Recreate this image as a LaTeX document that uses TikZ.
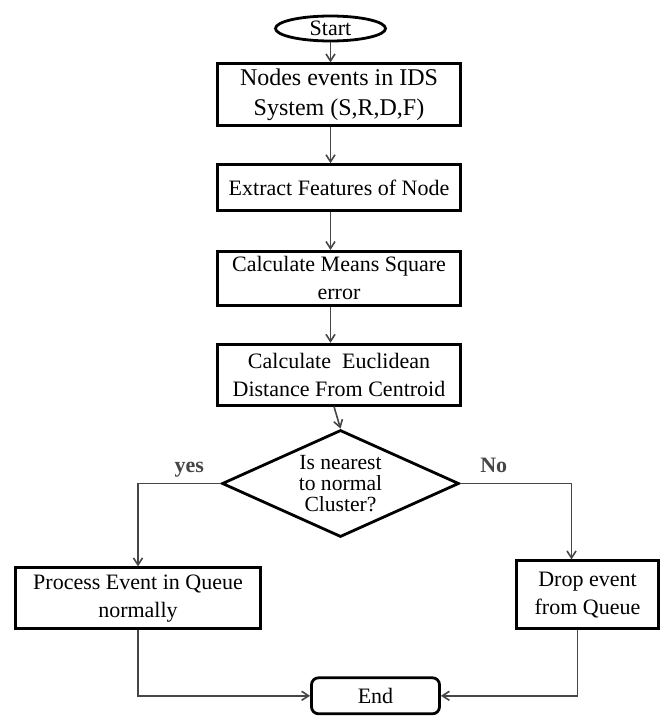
\documentclass[tikz,border=0pt]{standalone}
\usepackage{fontspec}
\setmainfont{Liberation Serif}
\usepackage{tikz}
\usetikzlibrary{shapes.geometric, arrows.meta, positioning}
\definecolor{linegray}{RGB}{70, 70, 70}

\begin{document}
\begin{tikzpicture}[
    node distance=18pt,
    every node/.style={font=\fontsize{11}{14}\selectfont},
    stage/.style={draw, line width=1.4pt, minimum width=121.6pt, inner sep=2pt, align=center},
    terminal/.style={draw, ellipse, line width=1.4pt, minimum width=55pt, minimum height=12.5pt, inner sep=0pt},
    decision/.style={draw, diamond, line width=1.4pt, aspect=2.2, minimum width=118.5pt, minimum height=53.5pt, inner sep=0pt, align=center, font=\fontsize{10.8}{10.6}\selectfont},
    finish/.style={draw, rounded corners=3.5pt, line width=1.4pt, minimum width=64pt, minimum height=18pt, inner sep=0pt},
    arrow/.style={-{Straight Barb[length=3.5pt, width=4.5pt]}, line width=0.8pt, linegray},
    branch/.style={font=\fontsize{11}{14}\selectfont\bfseries, text depth=0pt, inner sep=0pt}
]
    \useasboundingbox (0,0) rectangle (332pt,-361pt);

    % Nodes - main column
    \node[terminal] (start) at (165.25pt,-14.25pt) {Start};
    \node[stage, below=10pt of start, xshift=4.25pt, minimum height=31pt, font=\fontsize{12}{15}\selectfont] (events) {Nodes events in IDS\\System (S,R,D,F)};
    \node[stage, below=18pt of events, minimum height=23pt] (extract) {Extract Features of Node};
    \node[stage, below=19pt of extract, minimum height=27pt] (mse) {Calculate Means Square\\error};
    \node[stage, below=18pt of mse, minimum height=30.5pt] (euclid) {Calculate~ Euclidean\\Distance From Centroid};
    \node[decision, below=11pt of euclid, xshift=0.75pt] (decide) {Is nearest\\to normal\\Cluster?};

    % Nodes - branches
    \node[stage, minimum width=122.5pt, minimum height=30.5pt, below=14pt of decide, xshift=-101.25pt] (process) {Process Event in Queue\\normally};
    \node[stage, minimum width=71pt, minimum height=34pt, below=10.5pt of decide, xshift=123.5pt] (drop) {Drop event\\from Queue};
    \node[finish, below=69pt of decide, xshift=17.5pt] (end) {End};

    % Arrows
    \draw[arrow] (start) -- (start |- events.north);
    \draw[arrow] (events.south -| start) -- (extract.north -| start);
    \draw[arrow] (extract.south -| start) -- (mse.north -| start);
    \draw[arrow] (mse.south -| start) -- (euclid.north -| start);
    \draw[arrow] ([xshift=-2.5pt]euclid.south) -- (decide.north);
    \draw[arrow] (decide.west) -| (process.north) node[branch, pos=0.19, above=5pt] {yes};
    \draw[arrow] (decide.east) -| ([xshift=-8pt]drop.north) node[branch, pos=0.15, above=5pt] {No};
    \draw[arrow] (process.south) |- (end.west);
    \draw[arrow] ([xshift=-5pt]drop.south) |- (end.east);
\end{tikzpicture}
\end{document}
